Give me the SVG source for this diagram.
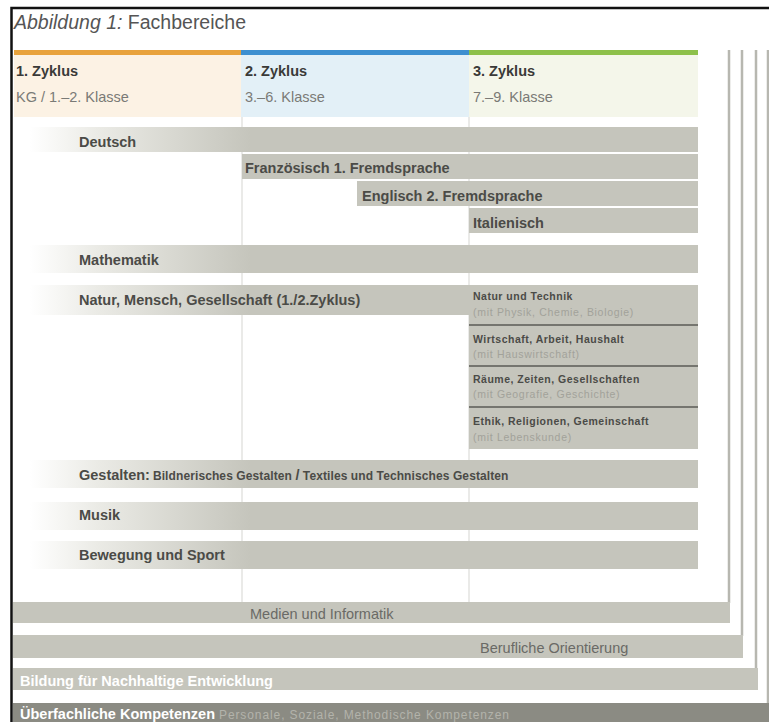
<svg xmlns="http://www.w3.org/2000/svg" width="769" height="722" viewBox="0 0 769 722">
  <defs>
    <linearGradient id="fade" gradientUnits="userSpaceOnUse" x1="30" y1="0" x2="250" y2="0">
      <stop offset="0" stop-color="#ffffff"/>
      <stop offset="0.3" stop-color="#ebebe6"/>
      <stop offset="1" stop-color="#c5c5bc"/>
    </linearGradient>
    <style>
      text { font-family: "Liberation Sans", Arial, sans-serif; }
      .title { font-size: 19.5px; fill: #555; }
      .cyc { font-size: 14.5px; font-weight: bold; fill: #3a3a38; }
      .cls { font-size: 14.5px; fill: #7a7a76; }
      .bar { fill: #c5c5bc; }
      .fade { fill: url(#fade); }
      .lbl { font-size: 14.5px; font-weight: bold; fill: #4b4b47; }
      .sm { font-size: 10.5px; font-weight: bold; fill: #4b4b47; letter-spacing: 0.5px; }
      .sub { font-size: 10.5px; fill: #a2a29a; letter-spacing: 0.7px; }
      .gs { font-size: 12px; font-weight: bold; fill: #4b4b47; letter-spacing: 0.1px; }
      .band { fill: #c5c5bc; }
      .bandtxt { font-size: 14.5px; fill: #6a6a66; }
      .wtxt { font-size: 14.5px; font-weight: bold; fill: #ffffff; }
      .grid { stroke: #e3e3e0; stroke-width: 1.5; }
      .side { stroke: #b7b7b0; stroke-width: 2.5; }
      .sep { stroke: #5a5a56; stroke-width: 1.5; }
    </style>
  </defs>

  <rect x="0" y="0" width="769" height="722" fill="#ffffff"/>

  <!-- frame -->
  <path d="M11.5,722 V8 H769" fill="none" stroke="#111" stroke-width="2.5"/>

  <!-- title -->
  <text class="title" x="14" y="29"><tspan font-style="italic">Abbildung 1:</tspan> Fachbereiche</text>

  <!-- cycle headers -->
  <g id="zyklus1">
    <rect x="14" y="55" width="227" height="62" fill="#fcf2e4"/>
    <rect x="14" y="50" width="227" height="5" fill="#e8a23c"/>
    <text class="cyc" x="16" y="76">1. Zyklus</text>
    <text class="cls" x="16" y="102">KG / 1.–2. Klasse</text>
  </g>
  <g id="zyklus2">
    <rect x="241" y="55" width="228" height="62" fill="#e3f0f7"/>
    <rect x="241" y="50" width="228" height="5" fill="#3d8fd0"/>
    <text class="cyc" x="245" y="76">2. Zyklus</text>
    <text class="cls" x="245" y="102">3.–6. Klasse</text>
  </g>
  <g id="zyklus3">
    <rect x="469" y="55" width="229" height="62" fill="#f4f6ea"/>
    <rect x="469" y="50" width="229" height="5" fill="#8dc04a"/>
    <text class="cyc" x="473" y="76">3. Zyklus</text>
    <text class="cls" x="473" y="102">7.–9. Klasse</text>
  </g>

  <!-- column guides -->
  <g id="guides">
    <line class="grid" x1="242" y1="117" x2="242" y2="602"/>
    <line class="grid" x1="469" y1="117" x2="469" y2="602"/>
  </g>

  <!-- cross-curricular frames: right edges -->
  <g id="frame-lines">
    <line class="side" x1="729" y1="50" x2="729" y2="603"/>
    <line class="side" x1="742" y1="50" x2="742" y2="636"/>
    <line class="side" x1="756" y1="50" x2="756" y2="669"/>
    <line class="side" x1="768" y1="50" x2="768" y2="704"/>
  </g>

  <!-- subject areas -->
  <g id="deutsch">
    <rect class="fade" x="30" y="127" width="668" height="25"/>
    <text class="lbl" x="79" y="147">Deutsch</text>
  </g>
  <g id="franzoesisch">
    <rect class="bar" x="242" y="154" width="456" height="25"/>
    <text class="lbl" x="245" y="173">Französisch 1. Fremdsprache</text>
  </g>
  <g id="englisch">
    <rect class="bar" x="357" y="181" width="341" height="25"/>
    <text class="lbl" x="362" y="201">Englisch 2. Fremdsprache</text>
  </g>
  <g id="italienisch">
    <rect class="bar" x="469" y="208" width="229" height="25"/>
    <text class="lbl" x="473" y="228">Italienisch</text>
  </g>
  <g id="mathematik">
    <rect class="fade" x="30" y="245" width="668" height="28"/>
    <text class="lbl" x="79" y="265">Mathematik</text>
  </g>
  <g id="nmg">
    <rect class="fade" x="30" y="285" width="439" height="30"/>
    <text class="lbl" x="79" y="305">Natur, Mensch, Gesellschaft (1./2.Zyklus)</text>
  </g>
  <g id="nmg-zyklus3">
    <rect class="bar" x="469" y="285" width="229" height="164"/>
    <line class="sep" x1="469" y1="325" x2="698" y2="325"/>
    <line class="sep" x1="469" y1="366" x2="698" y2="366"/>
    <line class="sep" x1="469" y1="407" x2="698" y2="407"/>
    <text class="sm" x="473" y="300">Natur und Technik</text>
    <text class="sub" x="473" y="316">(mit Physik, Chemie, Biologie)</text>
    <text class="sm" x="473" y="343">Wirtschaft, Arbeit, Haushalt</text>
    <text class="sub" x="473" y="358">(mit Hauswirtschaft)</text>
    <text class="sm" x="473" y="383">Räume, Zeiten, Gesellschaften</text>
    <text class="sub" x="473" y="398">(mit Geografie, Geschichte)</text>
    <text class="sm" x="473" y="425">Ethik, Religionen, Gemeinschaft</text>
    <text class="sub" x="473" y="441">(mit Lebenskunde)</text>
  </g>
  <g id="gestalten">
    <rect class="fade" x="30" y="460" width="668" height="28"/>
    <text x="79" y="480"><tspan class="lbl">Gestalten:</tspan><tspan class="gs" dx="3">Bildnerisches Gestalten </tspan><tspan class="lbl">/</tspan><tspan class="gs"> Textiles und Technisches Gestalten</tspan></text>
  </g>
  <g id="musik">
    <rect class="fade" x="30" y="502" width="668" height="28"/>
    <text class="lbl" x="79" y="520">Musik</text>
  </g>
  <g id="sport">
    <rect class="fade" x="30" y="541" width="668" height="28"/>
    <text class="lbl" x="79" y="560">Bewegung und Sport</text>
  </g>

  <!-- cross-curricular bands -->
  <g id="medien">
    <rect class="band" x="13" y="602" width="717" height="21"/>
    <text class="bandtxt" x="250" y="619">Medien und Informatik</text>
  </g>
  <g id="berufliche-orientierung">
    <rect class="band" x="13" y="635" width="730" height="23"/>
    <text class="bandtxt" x="480" y="653">Berufliche Orientierung</text>
  </g>
  <g id="bne">
    <rect class="band" x="13" y="668" width="745" height="22"/>
    <text class="wtxt" x="20" y="686">Bildung für Nachhaltige Entwicklung</text>
  </g>
  <g id="ueberfachlich">
    <rect x="13" y="703" width="756" height="19" fill="#8b8b83"/>
    <text x="20" y="719"><tspan class="wtxt">Überfachliche Kompetenzen</tspan><tspan font-size="12px" letter-spacing="0.9px" fill="#b3b3ab" dx="4">Personale, Soziale, Methodische Kompetenzen</tspan></text>
  </g>
</svg>
